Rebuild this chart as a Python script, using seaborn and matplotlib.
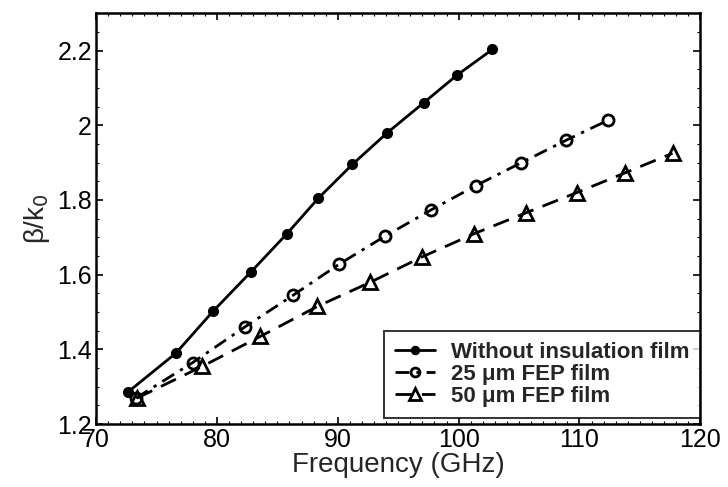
import numpy as np
import pandas as pd
import seaborn as sns
import matplotlib.pyplot as plt
from matplotlib.ticker import MultipleLocator

# data
freq_none = [72.6, 76.6, 79.7, 82.8, 85.8, 88.4, 91.2, 94.1, 97.1, 99.9, 102.8]
beta_none = [1.285, 1.39, 1.503, 1.607, 1.71, 1.805, 1.895, 1.98, 2.06, 2.135, 2.203]

freq_25 = [73.3, 78.0, 82.3, 86.3, 90.1, 93.9, 97.7, 101.4, 105.2, 108.9, 112.4]
beta_25 = [1.27, 1.365, 1.46, 1.545, 1.628, 1.703, 1.773, 1.838, 1.9, 1.96, 2.014]

freq_50 = [73.4, 78.8, 83.6, 88.3, 92.7, 97.0, 101.3, 105.6, 109.8, 113.8, 117.7]
beta_50 = [1.27, 1.355, 1.435, 1.515, 1.58, 1.648, 1.71, 1.766, 1.82, 1.873, 1.925]

labels = ["Without insulation film", "25 \u03bcm FEP film", "50 \u03bcm FEP film"]

sns.set_style("ticks")
plt.rcParams["font.family"] = ["Liberation Sans", "DejaVu Sans"]

fig = plt.figure(figsize=(7.28, 4.87), dpi=100)
ax = fig.add_axes([0.132, 0.129, 0.83, 0.844])

series = [
    (freq_none, beta_none, labels[0], "o", "-", 6, "k"),
    (freq_25, beta_25, labels[1], "o", (0, (5, 2.5, 1.2, 2.5)), 8, "none"),
    (freq_50, beta_50, labels[2], "^", (0, (6, 3.5)), 10, "none"),
]
for x, y, lab, mk, ls, ms, fc in series:
    df = pd.DataFrame({"f": x, "b": y})
    sns.lineplot(data=df, x="f", y="b", ax=ax, color="k", linewidth=2,
                 marker=mk, markersize=ms, markerfacecolor=fc,
                 markeredgecolor="k", markeredgewidth=2,
                 linestyle=ls, label=lab)

ax.set_xlim(70, 120)
ax.set_ylim(1.2, 2.3)
ax.set_xticks([70, 80, 90, 100, 110, 120])
ax.set_yticks([1.2, 1.4, 1.6, 1.8, 2.0, 2.2])
ax.set_yticklabels(["1.2", "1.4", "1.6", "1.8", "2", "2.2"])
ax.xaxis.set_minor_locator(MultipleLocator(1))
ax.yaxis.set_minor_locator(MultipleLocator(0.05))
ax.tick_params(which="both", direction="in", top=True, right=True, colors="k")
ax.tick_params(which="major", length=5, width=1.2, labelsize=18, pad=3)
ax.tick_params(which="minor", length=2.5, width=0.8)
for s in ax.spines.values():
    s.set_linewidth(1.8)
    s.set_color("k")

ax.set_xlabel("Frequency (GHz)", fontsize=20, labelpad=0)
ax.set_ylabel("\u03b2/k$_0$", fontsize=20, labelpad=4)

leg = ax.legend(loc="lower right", bbox_to_anchor=(1.0, 0.015),
                prop={"weight": "bold", "size": 16},
                frameon=True, fancybox=False, edgecolor="k",
                borderaxespad=0.0, handlelength=1.8, handletextpad=0.7,
                labelspacing=0.05, borderpad=0.5, markerscale=0.8)
leg.get_frame().set_linewidth(1.4)

plt.savefig("out.png", dpi=100)
